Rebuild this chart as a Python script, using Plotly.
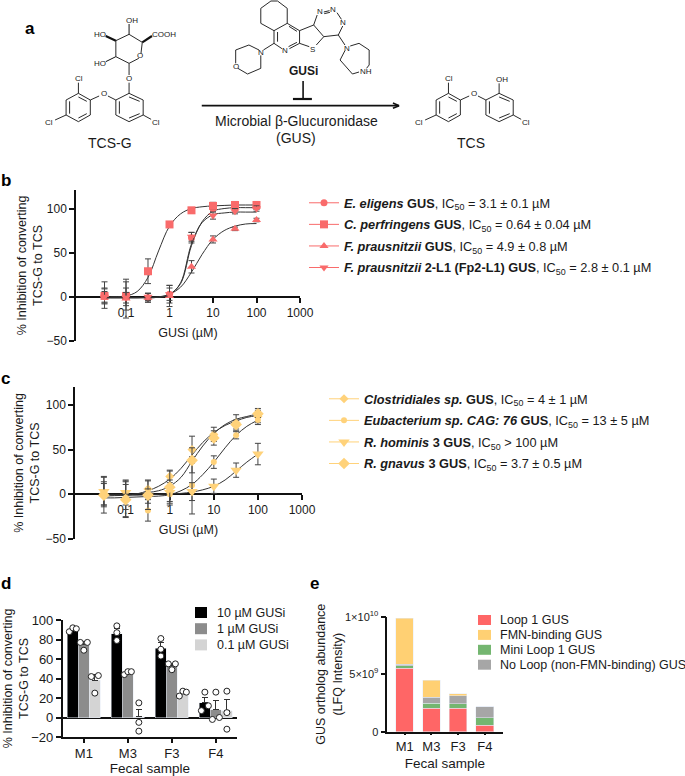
import plotly.graph_objects as go

W, H = 685, 776
FONT = "Liberation Sans"

# ---- panel b data
conc = [0.032, 0.1, 0.32, 1, 3.2, 10, 32, 100]
curve_x = [0.032, 0.056, 0.1, 0.18, 0.32, 0.56, 1, 1.8, 3.2, 5.6, 10, 18, 32, 56, 100]
b_names = ["<b><i>E. eligens</i> GUS</b>, IC<sub>50</sub> = 3.1 ± 0.1 µM",
           "<b><i>C. perfringens</i> GUS</b>, IC<sub>50</sub> = 0.64 ± 0.04 µM",
           "<b><i>F. prausnitzii</i> GUS</b>, IC<sub>50</sub> = 4.9 ± 0.8 µM",
           "<b><i>F. prausnitzii</i> 2-L1 (Fp2-L1) GUS</b>, IC<sub>50</sub> = 2.8 ± 0.1 µM"]
b_symbols = ["circle", "square", "triangle-up", "triangle-down"]
b_sizes = [7, 8, 8, 8]
b_vals = [[1, 0, -1, 3, 67, 100, 102, 102],
          [1, 1, 29, 82, 98, 103, 104, 104],
          [2, -2, -1, 1, 34, 65, 77, 87],
          [0, -1, 0, 3, 68, 92, 97, 100]]
b_errs = [[8, 10, 5, 10, 6, 3, 3, 3],
          [9, 16, 14, 2, 3, 4, 4, 4],
          [15, 22, 5, 12, 7, 4, 2, 2],
          [6, 6, 4, 7, 5, 4, 3, 3]]
b_curves = [[-1, -1, -1, -1, -1, -0.5, 3, 15, 58, 85, 97, 100, 101, 101, 101],
            [0, 0.3, 1, 6, 22, 52, 80, 94, 100, 102, 103, 103.5, 104, 104, 104],
            [-1, -1, -1, -1, -0.5, 0, 3, 11, 28, 48, 65, 75, 80, 82.5, 83],
            [-1, -1, -1, -1, -1, -0.5, 2, 16, 60, 84, 93, 95, 96, 96, 96]]
b_color = "#F96B6B"

# ---- panel c data
c_names = ["<b><i>Clostridiales sp.</i> GUS</b>, IC<sub>50</sub> = 4 ± 1 µM",
           "<b><i>Eubacterium sp. CAG: 76</i> GUS</b>, IC<sub>50</sub> = 13 ± 5 µM",
           "<b><i>R. hominis</i> 3 GUS</b>, IC<sub>50</sub> > 100 µM",
           "<b><i>R. gnavus</i> 3 GUS</b>, IC<sub>50</sub> = 3.7 ± 0.5 µM"]
c_symbols = ["diamond", "circle", "triangle-down", "diamond"]
c_sizes = [7, 6, 10, 9]
c_vals = [[1, -5, 6, 20, 50, 67, 80, 87],
          [0, -3, -18, 0, 10, 36, 66, 83],
          [3, 2, -2, 2, 3, 9, 27, 45],
          [-1, -6, -1, 8, 38, 63, 78, 90]]
c_errs = [[13, 20, 10, 7, 15, 8, 9, 9],
          [12, 14, 12, 8, 32, 7, 4, 3],
          [17, 14, 8, 14, 10, 8, 8, 12],
          [20, 20, 16, 18, 14, 8, 5, 4]]
c_curves = [[-2, -1.5, -1, 0.5, 4, 9, 17, 29, 44, 58, 69, 77, 82, 86, 88],
            [-4, -4, -3.5, -3, -2.5, -2, -0.5, 4, 11, 22, 36, 52, 66, 76, 83],
            [-1, -1, -1, -1, -0.5, 0, 0.5, 1, 2.5, 5, 9, 16, 26, 36, 45],
            [0, 0, 0, 0.5, 2, 4, 9, 19, 37, 54, 68, 78, 84, 87, 90]]
c_color = "#FFD27A"

# ---- panel d data
samples = ["M1", "M3", "F3", "F4"]
d_doses = ["10 µM GUSi", "1 µM GUSi", "0.1 µM GUSi"]
d_colors = ["#000000", "#8C8C8C", "#D4D4D4"]
d_bars = [[89, 86, 71, 15], [75, 46, 53, 8], [38, 1, 25, 7]]
d_err = [[2, 5, 6, 6], [3, 1, 2, 9], [6, 7, 2, 11]]
d_points = [[[88, 92, 91], [94, 87, 79], [81, 70, 63], [7, 26, 12]],
            [[77, 69, 77], [44, 47, 47], [55, 49, 55], [-2, 26, 0]],
            [[42, 25, 43], [15, -5, -14], [22, 27, 26], [27, 5, -12]]]
d_spread = [[[-0.08, 0, 0.08], [0, 0, 0], [0, 0, 0], [-0.08, 0, 0.08]],
            [[-0.08, 0, 0.08], [-0.08, 0, 0.08], [-0.08, 0, 0.08], [-0.08, 0, 0.08]],
            [[-0.08, 0, 0.08], [0, 0, 0], [-0.08, 0, 0.08], [0, 0, 0]]]

# ---- panel e data
e_names = ["Loop 1 GUS", "FMN-binding GUS", "Mini Loop 1 GUS", "No Loop (non-FMN-binding) GUS"]
e_colors = ["#FF6666", "#FFD073", "#74B670", "#A6A6A6"]
e_loop1 = [5.5e9, 2.05e9, 2.03e9, 0.58e9]
e_mini = [0.23e9, 0.43e9, 0.38e9, 0.64e9]
e_noloop = [0.15e9, 0.52e9, 0.72e9, 0.93e9]
e_fmn = [3.97e9, 1.48e9, 0.15e9, 0.0]


def xd(l, r):
    return [l / W, r / W]


def yd(t, b):
    return [1 - b / H, 1 - t / H]


def px(x):
    return x / W


def py(y):
    return 1 - y / H


fig = go.Figure()
shapes, notes = [], []


def text(x, y, s, size=12, **kw):
    notes.append(dict(x=px(x), y=py(y), xref="paper", yref="paper", text=s, showarrow=False,
                      font=dict(family=FONT, size=size, color=kw.pop("color", "#1a1a1a")),
                      xanchor=kw.pop("xanchor", "center"), yanchor="middle", **kw))


def seg(x0, y0, x1, y1, w=1.0, color="#111111"):
    shapes.append(dict(type="line", xref="paper", yref="paper", x0=px(x0), y0=py(y0), x1=px(x1), y1=py(y1),
                       line=dict(color=color, width=w)))


# ---- scheme of panel a, from crop coordinates
SX, SY = 1 / 2.27, 1 / 3


def bonds(chain, w=0.9, dx=0):
    for (a, b), (c, d) in zip(chain[:-1], chain[1:]):
        seg((a + dx) * SX, b * SY, (c + dx) * SX, d * SY, w)


def chem(x, y, s, size=8, dx=0):
    text((x + dx) * SX, y * SY, s, size)


def ether(dx):
    bonds([(178, 280), (205, 300), (205, 345), (178, 365), (150, 345), (150, 300), (178, 280)], dx=dx)
    bonds([(178, 291), (197, 304)], dx=dx)
    bonds([(197, 341), (178, 354)], dx=dx)
    bonds([(158, 341), (158, 304)], dx=dx)
    bonds([(293, 280), (325, 300), (325, 345), (293, 365), (263, 345), (263, 300), (293, 280)], dx=dx)
    bonds([(293, 291), (317, 304)], dx=dx)
    bonds([(317, 341), (293, 354)], dx=dx)
    bonds([(271, 341), (271, 304)], dx=dx)
    bonds([(205, 300), (225, 288)], dx=dx)
    bonds([(245, 288), (263, 300)], dx=dx)
    bonds([(178, 280), (178, 248)], dx=dx)
    bonds([(150, 345), (125, 360)], dx=dx)
    bonds([(325, 345), (343, 358)], dx=dx)
    chem(235, 279, "O", dx=dx)
    chem(179, 236, "Cl", dx=dx)
    chem(112, 368, "Cl", dx=dx)
    chem(353, 368, "Cl", dx=dx)


ether(0)
ether(840)
bonds([(293, 280), (293, 248)])
chem(293, 236, "O")
bonds([(293, 225), (293, 190), (315, 175)])
bonds([(320, 160), (323, 127), (293, 103), (263, 122), (263, 170), (293, 190)])
bonds([(293, 103), (293, 72)], 1.0)
bonds([(263, 122), (240, 108)], 2.2)
bonds([(323, 127), (345, 108)], 2.2)
bonds([(263, 170), (240, 185)], 1.0)
chem(318, 168, "O")
chem(299, 60, "OH")
chem(228, 103, "HO")
chem(372, 103, "COOH")
chem(227, 190, "HO")
bonds([(1133, 280), (1133, 250)])
chem(1140, 238, "OH")
# inhibitor
bonds([(622, 92), (592, 70), (592, 25), (615, 3), (630, 3), (652, 25), (652, 70), (622, 92)])
bonds([(652, 70), (680, 92), (680, 130), (657, 146)])
bonds([(640, 146), (622, 130), (622, 92)])
bonds([(630, 125), (630, 96)])
bonds([(656, 79), (674, 94)])
bonds([(674, 127), (655, 140)])
bonds([(680, 92), (712, 75), (735, 110), (718, 135)])
bonds([(702, 140), (680, 130)])
bonds([(712, 75), (720, 45)])
bonds([(735, 36), (748, 32)])
bonds([(736, 41), (749, 37)])
bonds([(765, 38), (775, 58)])
bonds([(778, 78), (768, 105), (735, 110)])
bonds([(768, 105), (783, 135)])
bonds([(795, 138), (815, 130), (838, 150), (838, 195), (832, 205)])
bonds([(815, 216), (800, 222), (772, 180), (783, 152)])
bonds([(622, 130), (598, 150)])
bonds([(588, 150), (565, 135), (535, 150), (535, 190)])
bonds([(540, 205), (562, 222), (592, 205), (592, 166)])
for nx, ny, label in [(648, 153, "N"), (710, 148, "S"), (726, 36, "N"), (757, 30, "N"), (779, 68, "N"),
                      (787, 145, "N"), (830, 213, "NH"), (592, 157, "N"), (535, 198, "O")]:
    chem(nx, ny, label)
text(690 * SX, 212 * SY, "<b>GUSi</b>", 12)
bonds([(688, 243), (688, 295)], 1.6)
bonds([(665, 297), (708, 297)], 2.2)
bonds([(458, 317), (905, 317)], 1.6)
bonds([(892, 309), (906, 317), (892, 325)], 1.6)
text(672 * SX, 363 * SY, "Microbial β-Glucuronidase", 14)
text(672 * SX, 415 * SY, "(GUS)", 14)
text(250 * SX, 428 * SY, "TCS-G", 14)
text(1070 * SX, 428 * SY, "TCS", 14)
for x, y, s in [(30, 29, "a"), (6, 180, "b"), (5, 378, "c"), (6, 583, "d"), (314, 583, "e")]:
    text(x, y, f"<b>{s}</b>", 17, color="#000000")


# ---- dose-response panels
def dose_panel(idx, names, symbols, sizes, vals, errs, curves, color, legend):
    ax = "" if idx == 1 else str(idx)
    for name, sym, size, v, e, cv in zip(names, symbols, sizes, vals, errs, curves):
        fig.add_trace(go.Scatter(x=curve_x, y=cv, mode="lines", line=dict(color="#333333", width=1, shape="spline"),
                                 showlegend=False, hoverinfo="skip", xaxis="x" + ax, yaxis="y" + ax))
        fig.add_trace(go.Scatter(x=conc, y=v, mode="markers", marker=dict(symbol=sym, size=size, color=color),
                                 error_y=dict(type="data", array=e, color="#444444", thickness=1, width=3),
                                 showlegend=False, xaxis="x" + ax, yaxis="y" + ax))
    for name, sym, size in zip(names, symbols, sizes):
        fig.add_trace(go.Scatter(x=[None], y=[None], mode="lines+markers", name=name, legend=legend,
                                 legendgroup=legend + name, line=dict(color=color, width=1),
                                 marker=dict(symbol=sym, size=size, color=color),
                                 xaxis="x" + ax, yaxis="y" + ax))


dose_panel(1, b_names, b_symbols, b_sizes, b_vals, b_errs, b_curves, b_color, "legend")
dose_panel(2, c_names, c_symbols, c_sizes, c_vals, c_errs, c_curves, c_color, "legend2")

# ---- panel d
for i, (dose, col) in enumerate(zip(d_doses, d_colors)):
    off = (i - 1) * 0.25
    fig.add_trace(go.Bar(x=[g + off for g in range(4)], y=d_bars[i], width=0.25, name=dose, marker_color=col,
                         error_y=dict(type="data", symmetric=False, array=d_err[i], arrayminus=[0] * 4,
                                      color="#333333", thickness=1, width=3),
                         showlegend=False, xaxis="x3", yaxis="y3"))
for i in range(3):
    xs, ys = [], []
    for g in range(4):
        for j in range(3):
            xs.append(g + (i - 1) * 0.25 + d_spread[i][g][j])
            ys.append(d_points[i][g][j])
    fig.add_trace(go.Scatter(x=xs, y=ys, mode="markers", showlegend=False,
                             marker=dict(symbol="circle", size=6, color="white", line=dict(color="#222222", width=1)),
                             xaxis="x3", yaxis="y3"))
for i, (dose, col) in enumerate(zip(d_doses, d_colors)):
    top = 607 + i * 16.2
    shapes.append(dict(type="rect", xref="paper", yref="paper", x0=px(195), x1=px(207), y0=py(top), y1=py(top + 11),
                       fillcolor=col, line=dict(width=0)))
    text(215, top + 5.5, dose, 12.5, xanchor="left")

# ---- panel e
for name, col, vals in [(e_names[0], e_colors[0], e_loop1), (e_names[2], e_colors[2], e_mini),
                        (e_names[3], e_colors[3], e_noloop), (e_names[1], e_colors[1], e_fmn)]:
    fig.add_trace(go.Bar(x=samples, y=vals, name=name, marker_color=col, width=0.66,
                         showlegend=False, xaxis="x4", yaxis="y4"))
for i, (name, col) in enumerate(zip(e_names, e_colors)):
    top = 615 + i * 14.9
    shapes.append(dict(type="rect", xref="paper", yref="paper", x0=px(478), x1=px(491), y0=py(top), y1=py(top + 10),
                       fillcolor=col, line=dict(width=0)))
    text(498, top + 5, name, 12.5, xanchor="left")

line = dict(showline=True, linecolor="#111111", linewidth=1.5, ticks="outside", tickcolor="#111111", tickwidth=1.5,
            showgrid=False, zeroline=False, layer="below traces",
            tickfont=dict(family=FONT, size=12, color="#1a1a1a"))
line13 = {**line, "tickfont": dict(family=FONT, size=13, color="#1a1a1a")}
line11 = {**line, "tickfont": dict(family=FONT, size=11, color="#1a1a1a")}
tfont = dict(family=FONT, size=12.5, color="#1a1a1a")
tfont13 = dict(family=FONT, size=13.5, color="#1a1a1a")
lfont = dict(family=FONT, size=12.75, color="#1a1a1a")
dose_ticks = [0.1, 1, 10, 100, 1000]
dose_text = ["0.1", "1", "10", "100", "1000"]
ylabel = "% Inhibition of converting<br>TCS-G to TCS"

fig.update_layout(
    width=W, height=H, autosize=False, margin=dict(l=0, r=0, t=0, b=0, pad=0, autoexpand=False),
    paper_bgcolor="white", plot_bgcolor="white",
    font=dict(family=FONT), shapes=shapes, annotations=notes, barmode="stack", hovermode=False,
    xaxis=dict(domain=xd(76, 300), type="log", range=[-2.15, 3], tickvals=dose_ticks, ticktext=dose_text, ticklen=5,
               anchor="free", position=py(297), title=dict(text="GUSi (µM)", font=tfont, standoff=8), **line),
    yaxis=dict(domain=yd(190, 341), range=[-50, 121], tickvals=[-50, 0, 50, 100], ticklen=5, anchor="x",
               title=dict(text=ylabel, font=tfont, standoff=1), **line),
    xaxis2=dict(domain=xd(75, 302), type="log", range=[-2.15, 3], tickvals=dose_ticks, ticktext=dose_text, ticklen=5,
                anchor="free", position=py(494), title=dict(text="GUSi (µM)", font=tfont, standoff=8), **line),
    yaxis2=dict(domain=yd(387, 539), range=[-50, 120], tickvals=[-50, 0, 50, 100], ticklen=5, anchor="x2",
                title=dict(text=ylabel, font=tfont, standoff=3), **line),
    xaxis3=dict(domain=xd(62.7, 237), range=[-0.48, 3.48], tickvals=[0, 1, 2, 3], ticktext=samples, ticklen=4,
                anchor="y3", title=dict(text="Fecal sample", font=tfont13, standoff=10), **line13),
    yaxis3=dict(domain=yd(620, 737), range=[-20, 100], tickvals=[-20, 0, 20, 40, 60, 80, 100], ticklen=5, anchor="x3",
                title=dict(text=ylabel, font=tfont, standoff=0),
                **{**line13, "zeroline": True, "zerolinecolor": "#111111", "zerolinewidth": 1.5}),
    xaxis4=dict(domain=xd(387.3, 502.7), type="category", range=[-0.65, 3.67], ticklen=2, anchor="y4",
                title=dict(text="Fecal sample", font=tfont13, standoff=6), **line13),
    yaxis4=dict(domain=yd(616.7, 731.7), range=[0, 1e10], tickvals=[0, 5e9, 1e10],
                ticktext=["0", "5×10<sup>9</sup>", "1×10<sup>10</sup>"], ticklen=5, anchor="x4",
                title=dict(text="GUS ortholog abundance<br>(LFQ Intensity)", font=tfont, standoff=0), **line11),
    legend=dict(x=px(304), y=py(188), xanchor="left", yanchor="top", traceorder="grouped", tracegroupgap=2,
                font=lfont, bgcolor="rgba(0,0,0,0)"),
    legend2=dict(x=px(324), y=py(384), xanchor="left", yanchor="top", traceorder="grouped", tracegroupgap=2,
                 font=lfont, bgcolor="rgba(0,0,0,0)"),
)

fig.write_html("out.html", config=dict(displayModeBar=False),
               post_script="document.body.style.margin='0';")
